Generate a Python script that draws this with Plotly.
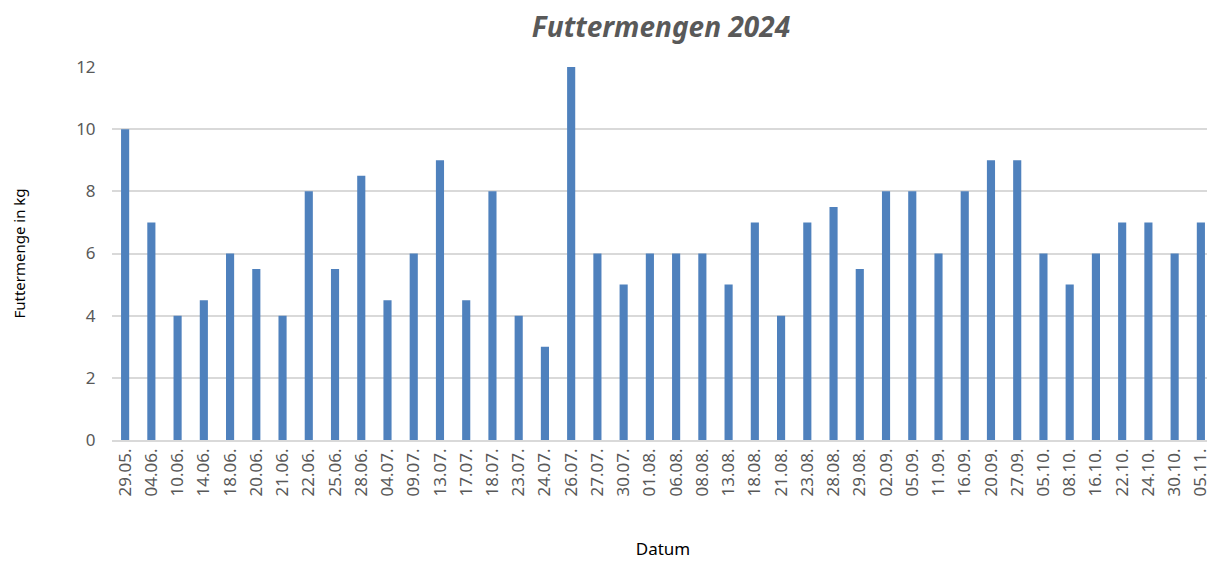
import plotly.graph_objects as go

dates = ["29.05.", "04.06.", "10.06.", "14.06.", "18.06.", "20.06.", "21.06.", "22.06.",
         "25.06.", "28.06.", "04.07.", "09.07.", "13.07.", "17.07.", "18.07.", "23.07.",
         "24.07.", "26.07.", "27.07.", "30.07.", "01.08.", "06.08.", "08.08.", "13.08.",
         "18.08.", "21.08.", "23.08.", "28.08.", "29.08.", "02.09.", "05.09.", "11.09.",
         "16.09.", "20.09.", "27.09.", "05.10.", "08.10.", "16.10.", "22.10.", "24.10.",
         "30.10.", "05.11."]
mengen = [10, 7, 4, 4.5, 6, 5.5, 4, 8, 5.5, 8.5, 4.5, 6, 9, 4.5, 8, 4, 3, 12, 6, 5, 6, 6,
          6, 5, 7, 4, 7, 7.5, 5.5, 8, 8, 6, 8, 9, 9, 6, 5, 6, 7, 7, 6, 7]
y_ticks = [0, 2, 4, 6, 8, 10, 12]

fig = go.Figure(go.Bar(x=dates, y=mengen, marker=dict(color="#4f81bd", line=dict(width=0))))

fig.update_layout(
    width=1207, height=553,
    margin=dict(l=104, r=1, t=59, b=121),
    paper_bgcolor="white", plot_bgcolor="white",
    bargap=0.69,
    font=dict(family="Noto Sans", color="#595959"),
    title=dict(text="<b><i>Futtermengen 2024</i></b>", x=0.541, xanchor="center",
               y=0.965, yanchor="middle", font=dict(size=28, color="#595959")),
    showlegend=False,
)
fig.update_xaxes(
    type="category", tickangle=-90, tickfont=dict(size=17, color="#595959"),
    showgrid=False, showline=True, linecolor="#d9d9d9", linewidth=1.5,
    ticks="", title=dict(text="Datum", font=dict(size=17, color="black"), standoff=48),
)
fig.update_yaxes(
    range=[0, 12], tickvals=y_ticks, tickfont=dict(size=17, color="#595959"),
    showgrid=True, gridcolor="#d9d9d9", gridwidth=1.5, zeroline=False,
    ticks="outside", ticklen=12, tickcolor="white",
    title=dict(text="Futtermenge in kg", font=dict(size=15, color="black"), standoff=46),
)

fig.write_html("out.html")
